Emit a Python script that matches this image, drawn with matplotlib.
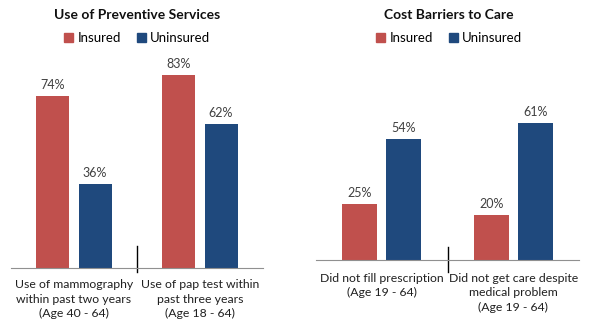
import numpy as np
import matplotlib
matplotlib.use("Agg")
from matplotlib import pyplot as plt
from matplotlib.patches import Patch

# 数値データ（%）
prev_labels = ["Use of mammography\nwithin past two years\n(Age 40 - 64)",
               "Use of pap test within\npast three years\n(Age 18 - 64)"]
prev_insured = [74, 83]
prev_uninsured = [36, 62]

cost_labels = ["Did not fill prescription\n(Age 19 - 64)",
               "Did not get care despite\nmedical problem\n(Age 19 - 64)"]
cost_insured = [25, 20]
cost_uninsured = [54, 61]

RED = "#C0504D"
BLUE = "#1F497D"

plt.rcParams['font.family'] = ['Lato', 'DejaVu Sans']
plt.rcParams['font.size'] = 8.5

W, H = 590, 324
fig = plt.figure(figsize=(W / 100, H / 100), dpi=100)


def px_axes(x0, x1, y_base, px_per_100):
    # ピクセル座標から軸を作る
    return fig.add_axes([x0 / W, (H - y_base) / H, (x1 - x0) / W, px_per_100 / H])


def draw(ax, labels, ins, unins, width, offset, tick_up, tick_down, label_pad):
    x = np.arange(len(labels))
    b1 = ax.bar(x - offset, ins, width, color=RED)
    b2 = ax.bar(x + offset, unins, width, color=BLUE)
    for bars in (b1, b2):
        for b in bars:
            ax.annotate(f"{b.get_height():.0f}%",
                        (b.get_x() + b.get_width() / 2, b.get_height()),
                        xytext=(0, 3.5), textcoords="offset points",
                        ha="center", va="bottom", color="#404040", fontsize=9)
    ax.set_xlim(-0.5, 1.5)
    ax.set_ylim(0, 100)
    for s in ("top", "right", "left"):
        ax.spines[s].set_visible(False)
    ax.spines["bottom"].set_color("#909090")
    ax.set_yticks([])
    ax.set_xticks(x)
    ax.set_xticklabels(labels, color="#202020", linespacing=1.4, fontsize=8.8)
    ax.tick_params(axis="x", length=0, pad=label_pad)
    # 区切り線
    ax.plot([0.5, 0.5], [-tick_down, tick_up], color="black", lw=1,
            transform=ax.get_xaxis_transform(), clip_on=False)


ax1 = px_axes(11, 263, 268, 233)
draw(ax1, prev_labels, prev_insured, prev_uninsured, 0.262, 0.167,
     22 / 233, 4 / 233, 8)

ax2 = px_axes(316, 579, 260, 224.5)
draw(ax2, cost_labels, cost_insured, cost_uninsured, 0.267, 0.168,
     13 / 224.5, 12 / 224.5, 9)

# タイトルと凡例
handles = [Patch(color=RED, label="Insured"), Patch(color=BLUE, label="Uninsured")]
for cx, title in ((137, "Use of Preventive Services"), (449, "Cost Barriers to Care")):
    fig.text(cx / W, 1 - 15 / H, title, ha="center", va="center",
             fontweight="bold", fontsize=10, color="#101010")
    fig.legend(handles=handles, loc="center", bbox_to_anchor=(cx / W, 1 - 38 / H),
               ncol=2, frameon=False, handlelength=0.7, handleheight=0.7,
               handletextpad=0.3, columnspacing=1.2, fontsize=9.5)

fig.savefig("out.png", dpi=100)
